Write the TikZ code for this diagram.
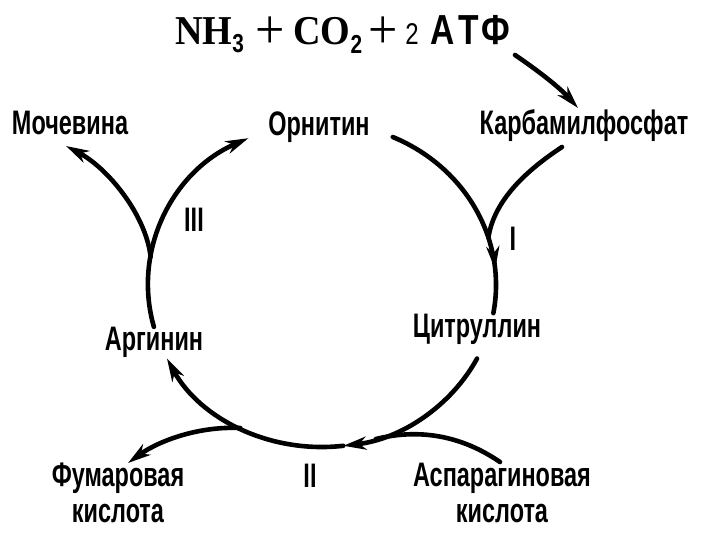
\documentclass[tikz,border=0pt]{standalone}
\usepackage{fontspec}
\setmainfont{Liberation Serif}
\newfontfamily\serb[FakeStretch=0.93]{Liberation Serif}
\newfontfamily\lab[FakeStretch=0.69]{Liberation Sans}
\newfontfamily\labw[FakeStretch=0.8]{Liberation Sans}
\usetikzlibrary{arrows.meta,decorations.markings,calc}
\newcommand{\bigplus}{{\mdseries\fontsize{56}{56}\selectfont\raisebox{-4pt}{+}}}
\begin{document}
\begin{tikzpicture}[x=1pt,y=-1pt,
  lbl/.style={font=\lab\bfseries\fontsize{34}{36}\selectfont, inner sep=0pt, align=center},
  flow/.style={line width=4.6pt, line cap=round},
  tipped/.style={-{Stealth[length=23pt,width=13pt,inset=7pt]}},
  midtip/.style={postaction={decorate,decoration={markings,
     mark=at position #1 with {\arrow{Stealth[length=23pt,width=13pt,inset=7pt]}}}}}]
\useasboundingbox[fill=white] (0,0) rectangle (720,540);

% formula
\node[anchor=base west, inner sep=0pt] (form) at (175,45)
  {\serb\bfseries\fontsize{41}{44}\selectfont NH\raisebox{-8pt}{\labw\fontsize{26}{26}\selectfont 3}\hspace{12pt}\bigplus\hspace{8pt}CO\raisebox{-9pt}{\labw\fontsize{26}{26}\selectfont 2}\hspace{6pt}\bigplus\hspace{8pt}{\labw\mdseries\fontsize{30}{30}\selectfont 2}\hspace{12pt}{\labw\fontsize{42}{42}\selectfont А\hspace{3pt}Т\hspace{3pt}Ф}};

% labels
\node[lbl, anchor=base] (moch) at (70,135) {Мочевина};
\node[lbl, anchor=base] (orn)  at (319,136) {Орнитин};
\node[lbl, anchor=base] (carb) at (584,135) {Карбамилфосфат};
\node[lbl, anchor=base] (cit)  at (477,337) {Цитруллин};
\node[lbl, anchor=base] (arg)  at (154,350) {Аргинин};
\node[lbl] (fum) at (118,493) {Фумаровая\\кислота};
\node[lbl] (asp) at (502,493) {Аспарагиновая\\кислота};
\node[lbl, anchor=base] (rIII) at (194,231) {III};
\node[lbl, anchor=base] (rI)   at (513,251) {I};
\node[lbl, anchor=base] (rII)  at (310,487) {II};

% cycle geometry
\coordinate (O) at (322,285);
\coordinate (o1) at ($(O)+(-66:174 and 162)$);
\coordinate (mI) at ($(O)+(-17:174 and 162)$);
\coordinate (c1) at ($(O)+(27:174 and 162)$);
\coordinate (mA) at ($(O)+(72:174 and 162)$);
\coordinate (b1) at ($(O)+(83:174 and 162)$);
\coordinate (mF) at ($(O)+(118:174 and 162)$);
\coordinate (a1) at ($(O)+(165:174 and 162)$);
\coordinate (mU) at ($(O)+(190:174 and 162)$);
\coordinate (cbs) at (562,147);
\coordinate (asps) at (500,462);
\coordinate (fumt) at (128,463);
\coordinate (mocht) at (66,146);
\coordinate (fs) at (515,55);
\coordinate (ft) at (578,108);

% formula -> carbamyl phosphate
\draw[flow,tipped] (fs) .. controls (540,72) and (560,88) .. (ft);

% I : ornithine -> citrulline
\draw[flow,midtip=0.8] (o1) arc[start angle=-66,end angle=10,x radius=174,y radius=162];
\draw[flow] (cbs) .. controls (527,170) and (494,200) .. (mI);

% II : citrulline -> arginine
\draw[flow,tipped] (c1) arc[start angle=27,end angle=83,x radius=174,y radius=162];
\draw[flow] (asps) .. controls (462,436) and (420,428) .. (mA);
\draw[flow,tipped] (b1) arc[start angle=83,end angle=153,x radius=174,y radius=162];
\draw[flow,tipped] (mF) .. controls (200,426) and (160,440) .. (fumt);

% III : arginine -> ornithine + urea
\draw[flow,tipped] (a1) arc[start angle=165,end angle=245,x radius=174,y radius=162];
\draw[flow,tipped] (mU) .. controls (146,215) and (108,168) .. (mocht);
\end{tikzpicture}
\end{document}
